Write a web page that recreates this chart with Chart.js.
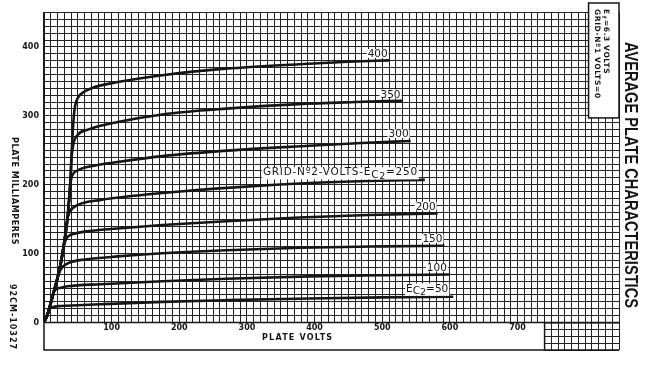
<!DOCTYPE html>
<html><head><meta charset="utf-8">
<script src="https://cdn.jsdelivr.net/npm/chart.js@4.4.1/dist/chart.umd.min.js"></script>
<style>html,body{margin:0;padding:0;background:#fff;}#wrap{width:645px;height:365px;position:relative;}</style>
</head><body><div id="wrap"><canvas id="c" width="645" height="365"></canvas></div>
<script>
// Screen-grid (Ec2) volts for each curve
const screenVolts = [50, 100, 150, 200, 250, 300, 350, 400];
const curveLabels = ['EC2=50', '100', '150', '200', 'GRID-Nº2-VOLTS-EC2=250', '300', '350', '400'];

// Plate volts / plate milliamperes
const ec50V   = [0, 4, 8, 12, 25, 50, 84, 175, 270, 392, 500, 605];
const ec50mA  = [0, 9, 19, 22, 24, 25, 26.5, 30, 32.5, 35, 36.5, 37.5];
const ec100V  = [0, 5, 8, 14, 18, 25, 35, 84, 175, 270, 392, 500, 600];
const ec100mA = [0, 11, 22, 43.5, 48.5, 50.6, 52.6, 55.6, 60, 63.5, 67, 68.7, 69.7];
const ec150V  = [0, 5, 10, 15, 20, 24, 30, 40, 60, 109, 175, 270, 380, 500, 592];
const ec150mA = [0, 11, 28, 46.5, 64.7, 75.8, 82.8, 88, 91.5, 96, 100.5, 105, 108.5, 110.5, 111.5];
const ec200V  = [0, 5, 10, 15, 20, 25, 29, 32, 37, 45, 60, 109, 175, 270, 377, 480, 582];
const ec200mA = [0, 11, 28, 46.5, 64.7, 87, 110, 120, 126, 129, 132, 136.5, 141.5, 147, 152.5, 156, 158.5];
const ec250V  = [0, 5, 10, 15, 20, 25, 30, 34, 38, 50, 84, 133, 175, 270, 392, 480, 563];
const ec250mA = [0, 11, 28, 46.5, 64.7, 87, 117, 148, 160.5, 170.6, 178, 184, 188, 195.5, 202.5, 205.5, 207];
const ec300V  = [0, 5, 10, 15, 20, 25, 30, 35, 37.5, 39.5, 42, 50, 74, 109, 175, 270, 392, 470, 542];
const ec300mA = [0, 11, 28, 46.5, 64.7, 87, 117, 153, 185, 205, 214, 221, 227.5, 233, 241.5, 249.5, 256.5, 260.5, 263.5];
const ec350V  = [0, 5, 10, 15, 20, 25, 30, 35, 39, 40.5, 43, 50, 65, 109, 175, 270, 377, 460, 530];
const ec350mA = [0, 11, 28, 46.5, 64.7, 87, 117, 153, 204, 235, 257, 272.5, 280, 291, 302, 310.5, 317, 320, 322];
const ec400V  = [0, 5, 10, 15, 20, 25, 30, 35, 39, 41, 44, 46, 50, 55, 70, 109, 175, 269, 377, 450, 511];
const ec400mA = [0, 11, 28, 46.5, 64.7, 87, 117, 153, 204, 250, 298.7, 314.8, 326, 332, 340, 349, 359, 368.5, 375, 378.5, 380.5];

const xTickLabels = [100, 200, 300, 400, 500, 600, 700];
const yTickLabels = [0, 100, 200, 300, 400];
const xAxisTitle = 'PLATE VOLTS';
const yAxisTitle = 'PLATE MILLIAMPERES';
const chartTitle = 'AVERAGE PLATE CHARACTERISTICS';
const noteLine1 = ['E', 'f', '=6.3 VOLTS'];
const noteLine2 = 'GRID-Nº1 VOLTS=0';
const figureCode = '92CM-10327';
const boxEndVolts = 740;      // white caption box under the axis ends here
const noteBoxVolts = 805;     // top-right note box starts here
const noteBoxMA = 297;        // note box bottom

const seriesV = [ec50V, ec100V, ec150V, ec200V, ec250V, ec300V, ec350V, ec400V];
const seriesMA = [ec50mA, ec100mA, ec150mA, ec200mA, ec250mA, ec300mA, ec350mA, ec400mA];

const INK = '#151515';
const datasets = screenVolts.map((ec, i) => ({
  label: 'Ec2=' + ec,
  data: seriesV[i].map((v, k) => ({x: v, y: seriesMA[i][k]})),
  borderColor: INK, borderWidth: 2.6, pointRadius: 0, fill: false,
  cubicInterpolationMode: 'monotone'
}));

function drawPieces(ctx, str, xRight, yBase, size, spacing) {
  const idx = str.indexOf('EC2');
  let pieces;
  if (idx >= 0) {
    pieces = [
      {t: str.slice(0, idx + 1), dy: 0, s: size},
      {t: 'C', dy: 2.5, s: size},
      {t: '2', dy: 3.5, s: size - 1},
      {t: str.slice(idx + 3), dy: 0, s: size}
    ];
  } else pieces = [{t: str, dy: 0, s: size}];
  ctx.letterSpacing = spacing + 'px';
  let total = 0, maxDy = 0;
  pieces.forEach(p => { ctx.font = p.s + 'px "DejaVu Sans"'; p.w = ctx.measureText(p.t).width; total += p.w; maxDy = Math.max(maxDy, p.dy); });
  let x = xRight - total;
  ctx.fillStyle = '#fff';
  ctx.fillRect(x - 1, yBase - size * 0.78, total + 2, size * 0.78 + maxDy + 0.5);
  ctx.fillStyle = INK;
  ctx.textAlign = 'left'; ctx.textBaseline = 'alphabetic';
  pieces.forEach(p => { ctx.font = p.s + 'px "DejaVu Sans"'; ctx.fillText(p.t, x, yBase + p.dy); x += p.w; });
  ctx.letterSpacing = '0px';
}

function vText(ctx, str, cx, cy, font, spacing, align) {
  ctx.save(); ctx.translate(cx, cy); ctx.rotate(Math.PI / 2);
  ctx.font = font; ctx.letterSpacing = spacing + 'px';
  ctx.textAlign = align || 'center'; ctx.textBaseline = 'middle';
  ctx.fillText(str, 0, 0); ctx.restore();
}

const labelShift = [[-5, -5], [-3, -3.5], [-2, -3.5], [-2, -3.5], [-7, -4.5], [-2, -3.5], [-2, -3], [-2, -3]];

const deco = {
  id: 'deco',
  beforeDatasetsDraw(chart) {
    const {ctx, chartArea: a, scales: {x, y}} = chart;
    ctx.save();
    const x1 = x.getPixelForValue(boxEndVolts), yT = y.getPixelForValue(0);
    ctx.fillStyle = '#fff';
    ctx.fillRect(a.left - 1, yT, x1 - a.left + 1, a.bottom - yT + 3);
    ctx.strokeStyle = INK; ctx.lineWidth = 1.5;
    ctx.beginPath();
    ctx.moveTo(a.left, yT); ctx.lineTo(a.left, a.bottom); ctx.lineTo(a.right, a.bottom);
    ctx.moveTo(x1, yT); ctx.lineTo(x1, a.bottom);
    ctx.moveTo(a.left, yT); ctx.lineTo(a.right, yT);
    ctx.stroke();
    const nx = x.getPixelForValue(noteBoxVolts), ny = y.getPixelForValue(noteBoxMA);
    ctx.fillStyle = '#fff';
    ctx.fillRect(nx, 3, a.right - nx, ny - 3);
    ctx.strokeRect(nx, 3, a.right - nx, ny - 3);
    ctx.restore();
  },
  afterDatasetsDraw(chart) {
    const {ctx} = chart;
    ctx.save();
    chart.data.datasets.forEach((d, i) => {
      const pts = chart.getDatasetMeta(i).data;
      const p = pts[pts.length - 1];
      const sp = curveLabels[i].indexOf('GRID') >= 0 ? 0.75 : 0;
      drawPieces(ctx, curveLabels[i], p.x + labelShift[i][0], p.y + labelShift[i][1], 10.5, sp);
    });
    ctx.restore();
  },
  afterDraw(chart) {
    const {ctx, chartArea: a, scales: {x, y}} = chart;
    ctx.save(); ctx.fillStyle = INK;
    ctx.font = 'bold 8px "DejaVu Sans"'; ctx.letterSpacing = '1.2px';
    ctx.textAlign = 'center'; ctx.textBaseline = 'middle';
    ctx.fillText(xAxisTitle, x.getPixelForValue(375), 338);
    ctx.letterSpacing = '0px';
    vText(ctx, yAxisTitle, 14, 191, 'bold 8px "DejaVu Sans"', 0.6);
    vText(ctx, figureCode, 12, 317, 'bold 8px "DejaVu Sans"', 1);
    ctx.save(); ctx.translate(630, 175); ctx.rotate(Math.PI / 2);
    ctx.font = 'bold 19px "Liberation Sans"'; ctx.letterSpacing = '0px';
    const w = ctx.measureText(chartTitle).width;
    ctx.scale(266 / w, 1);
    ctx.textAlign = 'center'; ctx.textBaseline = 'middle';
    ctx.fillText(chartTitle, 0, 0);
    ctx.restore();
    ctx.save(); ctx.translate(606, 9); ctx.rotate(Math.PI / 2);
    ctx.textBaseline = 'middle'; ctx.textAlign = 'left';
    ctx.font = 'bold 7.5px "DejaVu Sans"'; ctx.letterSpacing = '0.6px';
    let cx = 0;
    ctx.fillText(noteLine1[0], cx, 0); cx += ctx.measureText(noteLine1[0]).width + 1;
    ctx.font = 'bold 6px "DejaVu Sans"';
    ctx.fillText(noteLine1[1], cx, 2); cx += ctx.measureText(noteLine1[1]).width + 1;
    ctx.font = 'bold 7.5px "DejaVu Sans"';
    ctx.fillText(noteLine1[2], cx, 0);
    ctx.fillText(noteLine2, 0, 9);
    ctx.restore();
    ctx.restore();
  }
};

const tickFont = {family: 'DejaVu Sans', weight: 'bold', size: 8};
new Chart(document.getElementById('c'), {
  type: 'line',
  data: {datasets},
  options: {
    responsive: false, animation: false, devicePixelRatio: 1,
    layout: {padding: {left: 0, top: 12.5, right: 26, bottom: 14.9}},
    plugins: {legend: {display: false}, tooltip: {enabled: false}},
    scales: {
      x: {
        type: 'linear', position: {y: 0}, min: 0, max: 850,
        ticks: {stepSize: 10, autoSkip: false, maxTicksLimit: 1000, maxRotation: 0, padding: 1, z: 1,
          color: INK, font: tickFont,
          callback: v => xTickLabels.includes(Math.round(v)) ? String(Math.round(v)) : ''},
        grid: {color: '#222', lineWidth: 1, drawTicks: false},
        border: {display: true, color: INK, width: 1.5}
      },
      y: {
        type: 'linear', position: 'left', min: -40, max: 450,
        afterFit(s) { s.width = 44; },
        ticks: {stepSize: 10, autoSkip: false, maxTicksLimit: 1000, padding: 5,
          color: INK, font: tickFont,
          callback: v => yTickLabels.includes(Math.round(v)) ? String(Math.round(v)) : ''},
        grid: {color: '#222', lineWidth: 1, drawTicks: false},
        border: {display: true, color: INK, width: 1.5}
      }
    }
  },
  plugins: [deco]
});
</script></body></html>
